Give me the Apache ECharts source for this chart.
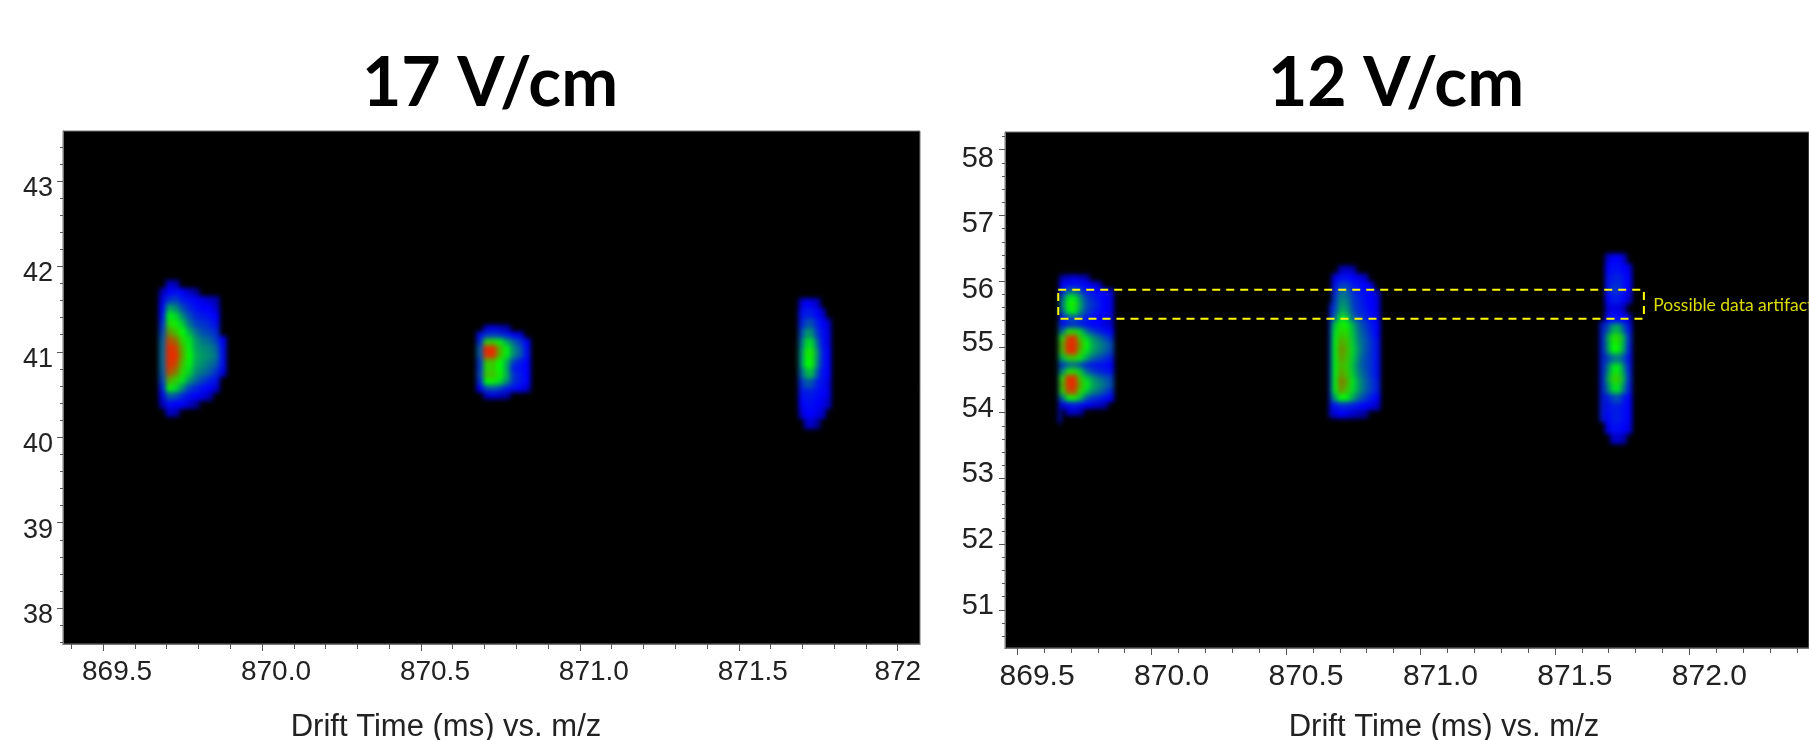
<!DOCTYPE html>
<html><head><meta charset="utf-8">
<style>
html,body{margin:0;padding:0;background:#fff;overflow:hidden}
#chart{width:1809px;height:740px}
#chart canvas[data-zr-dom-id="zr_1"]{filter:blur(2.6px)}
</style>
<script src="https://cdn.jsdelivr.net/npm/echarts@6/dist/echarts.min.js"></script>
</head><body><div id="chart"></div>
<script>
// ---------- tick values and labels ----------
const xTicksLeft = [869.5, 870, 870.5, 871, 871.5, 872];
const xLabelsLeft = ['869.5', '870.0', '870.5', '871.0', '871.5', '872'];
const yTicksLeft = [38, 39, 40, 41, 42, 43];
const xTicksRight = [869.5, 870, 870.5, 871, 871.5, 872];
const xLabelsRight = ['869.5', '870.0', '870.5', '871.0', '871.5', '872.0'];
const yTicksRight = [51, 52, 53, 54, 55, 56, 57, 58];
const xRangeLeft = [869.374, 872.07], yRangeLeft = [37.58, 43.585];
const xRangeRight = [869.455, 872.445], yRangeRight = [50.42, 58.27];

// ---------- intensity tables (rows top to bottom) ----------
const peakL1 = [
[0,16,14,0,0,0,0,0,0,0],[14,20,22,20,16,12,0,0,0,0],[18,28,30,24,22,20,18,16,14,0],
[20,46,42,32,26,22,20,20,16,0],[22,58,54,42,32,26,24,22,20,0],[26,66,62,52,38,30,28,26,22,0],
[30,76,70,60,48,38,32,30,26,0],[34,92,84,66,56,44,38,36,30,20],[36,100,96,72,58,46,42,40,36,22],
[36,100,100,74,60,48,44,42,38,22],[36,100,94,70,58,46,42,38,34,22],[34,92,82,66,54,42,38,34,28,18],
[30,74,68,56,44,36,30,26,22,0],[24,62,54,42,30,26,22,20,16,0],[18,34,32,26,22,20,18,14,0,0],
[14,22,20,20,16,12,0,0,0,0],[0,16,14,0,0,0,0,0,0,0]];
const peakL2 = [
[0,16,18,16,14,0,0,0],[22,28,30,28,24,20,18,0],[26,66,66,58,46,36,28,20],
[34,100,100,72,58,42,34,22],[34,100,100,72,58,42,34,22],[28,70,70,60,48,30,24,20],
[28,66,68,60,46,24,22,20],[30,70,70,62,48,28,24,20],[26,60,62,54,42,28,24,20],
[20,32,34,30,24,22,20,16],[0,16,18,16,14,0,0,0]];
const peakL3 = [
[16,20,18,16,0,0],[22,24,24,20,16,0],[24,32,32,24,20,16],[30,44,42,28,22,18],
[36,54,54,36,22,18],[40,62,64,42,24,20],[40,60,62,40,24,20],[34,48,50,32,22,20],
[26,34,32,24,22,18],[22,24,24,22,20,18],[20,22,22,20,18,16],[16,20,20,18,16,0],[0,16,16,12,0,0]];
const peakR1 = [
[14,16,18,16,14,0,0,0,0],[20,22,22,22,20,18,16,0,0],[24,36,38,30,24,22,20,18,16],
[34,56,58,42,30,26,22,20,18],[38,62,64,46,32,28,24,20,18],[34,56,58,42,30,26,22,20,18],
[22,30,32,28,24,22,20,18,16],[22,26,28,24,22,20,20,18,16],[36,64,66,54,38,30,26,22,20],
[66,96,100,68,54,44,38,32,26],[74,100,100,76,60,48,42,38,32],[70,100,100,70,56,46,40,36,30],
[48,66,68,58,46,36,32,28,24],[28,36,38,32,26,24,22,22,20],[40,64,66,52,36,30,26,24,22],
[66,100,100,68,52,44,38,34,30],[72,100,100,74,58,48,42,38,32],[66,92,94,66,52,42,38,32,26],
[36,60,62,50,34,28,26,22,20],[18,22,24,22,20,18,16,14,0],[0,16,16,14,0,0,0,0,0]];
const peakR2 = [
[0,14,16,14,0,0,0,0],[18,22,22,20,18,16,0,0],[22,30,30,24,22,20,18,0],[26,38,36,28,24,22,20,16],
[28,42,40,30,26,22,20,18],[30,46,44,32,26,24,20,18],[36,56,52,36,30,26,22,18],[52,64,62,48,36,30,24,20],
[56,68,66,50,38,32,26,20],[58,74,70,52,40,34,28,22],[58,78,72,54,42,34,28,22],[58,76,70,52,40,32,28,22],
[58,72,68,50,38,32,28,22],[58,76,70,52,40,34,28,22],[58,82,74,56,44,36,30,24],[58,78,70,54,44,36,30,24],
[44,60,58,46,36,30,24,20],[22,26,26,24,22,20,18,16],[16,20,18,16,14,12,0,0]];
const peakR3 = [
[16,20,20,16,0],[20,22,22,20,18],[22,24,26,22,20],[22,28,28,22,20],[20,24,24,20,16],
[16,18,18,14,0],[20,22,22,20,16],[32,46,48,34,22],[44,64,66,48,26],[42,60,62,46,24],
[30,38,40,32,22],[38,56,58,42,24],[44,66,68,48,26],[38,54,56,40,24],[24,30,32,24,20],
[22,24,24,22,20],[20,24,24,22,20],[18,22,22,20,18],[0,16,16,14,0]];
const stripR1 = [[40],[40],[40],[40],[38],[36],[34],[30],[26],[24],[22],[22]];
const stripR2 = [[22],[22],[22],[22],[22],[22],[22],[22],[22],[22],[22],[22]];
const stripR3 = [[24],[24],[24],[24],[24],[24],[24],[24],[24],[24]];

// ---------- where each table sits, in axis units: [table, x start, x step, y top, y step]
const placedLeft = [
  [peakL1, 869.676, 0.021, 41.84, 0.0937],
  [peakL2, 870.675, 0.021, 41.314, 0.078],
  [peakL3, 871.688, 0.0168, 41.626, 0.117]
];
const placedRight = [
  [stripR1, 869.654, 0.0075, 55.414, 0.1307],
  [stripR2, 870.661, 0.0087, 55.658, 0.1433],
  [stripR3, 871.667, 0.0149, 55.388, 0.1522],
  [peakR1, 869.657, 0.0223, 56.099, 0.1015],
  [peakR2, 870.67, 0.0223, 56.236, 0.1218],
  [peakR3, 871.686, 0.0198, 56.42, 0.152]
];

// ---------- annotation ----------
const artifactBox = [869.653, 55.87, 871.831, 55.43];
const artifactLabel = 'Possible data artifact';
const artifactLabelAt = [871.866, 55.64];

function cells(placed) {
  const out = [];
  placed.forEach(([t, x0, dx, y0, dy]) => t.forEach((row, r) => row.forEach((v, c) => {
    if (v > 0) out.push([x0 + c * dx, y0 - r * dy, dx, dy, v]);
  })));
  return out;
}
function steps(range, step) {
  const a = [];
  const n0 = Math.ceil(range[0] / step - 1e-6), n1 = Math.floor(range[1] / step + 1e-6);
  for (let n = n0; n <= n1; n++) a.push(+(n * step).toFixed(3));
  return a;
}
function renderCell(params, api) {
  const p0 = api.coord([api.value(0), api.value(1)]);
  const p1 = api.coord([api.value(0) + api.value(2), api.value(1) - api.value(3)]);
  return {
    type: 'rect',
    shape: { x: p0[0], y: p0[1], width: p1[0] - p0[0] + 0.6, height: p1[1] - p0[1] + 0.6 },
    style: { fill: api.visual('color') }
  };
}
const numFont = '"Liberation Sans", Arial, sans-serif';
const tickCol = '#555';

function xAxes(gridIndex, range, ticks, labels, size, margin, pad, plainLabel) {
  const base = { type: 'value', gridIndex, position: 'bottom', min: range[0], max: range[1],
    splitLine: { show: false }, axisLine: { show: true, lineStyle: { color: '#777', width: 1 } } };
  return [
    Object.assign({}, base, {
      axisTick: { show: true, length: 7, customValues: ticks, lineStyle: { color: tickCol } },
      axisLabel: { show: true, customValues: ticks, fontFamily: numFont, fontSize: size, color: '#222',
        margin, hideOverlap: false, showMinLabel: true, showMaxLabel: true,
        formatter: v => {
          const s = labels[ticks.indexOf(v)];
          return (s === plainLabel ? '{flat|' : '{moved|') + s + '}';
        },
        rich: {
          moved: { fontFamily: numFont, fontSize: size, color: '#222', padding: [0, 0, 0, pad] },
          flat: { fontFamily: numFont, fontSize: size, color: '#222', padding: 0 }
        } }
    }),
    Object.assign({}, base, {
      axisTick: { show: true, length: 5, customValues: steps(range, 0.1), lineStyle: { color: tickCol } },
      axisLabel: { show: false }
    })
  ];
}
function yAxes(gridIndex, range, ticks, size, margin, labelOpts) {
  const base = { type: 'value', gridIndex, position: 'left', min: range[0], max: range[1],
    splitLine: { show: false }, axisLine: { show: true, lineStyle: { color: '#777', width: 1 } } };
  return [
    Object.assign({}, base, {
      axisTick: { show: true, length: 6, customValues: ticks, lineStyle: { color: tickCol } },
      axisLabel: Object.assign({ show: true, customValues: ticks, fontFamily: numFont, fontSize: size, color: '#222',
        margin, hideOverlap: false, showMinLabel: true, showMaxLabel: true }, labelOpts)
    }),
    Object.assign({}, base, {
      axisTick: { show: true, length: 3, customValues: steps(range, 0.2), lineStyle: { color: tickCol } },
      axisLabel: { show: false }
    })
  ];
}

const chart = echarts.init(document.getElementById('chart'), null, { renderer: 'canvas' });
const titleStyle = { fontFamily: 'Lato, "Open Sans", sans-serif', fontWeight: 'bold', fontSize: 68, color: '#000' };
const nameStyle = { fontFamily: numFont, fontWeight: 'normal', fontSize: 31, color: '#222' };
chart.setOption({
  animation: false,
  backgroundColor: '#fff',
  title: [
    { text: '17 V/cm', left: 485, top: 45, textAlign: 'center', textStyle: titleStyle },
    { text: '12 V/cm', left: 1391, top: 45, textAlign: 'center', textStyle: titleStyle },
    { text: 'Drift Time (ms) vs. m/z', left: 441, top: 707, textAlign: 'center', textStyle: nameStyle },
    { text: 'Drift Time (ms) vs. m/z', left: 1439, top: 707, textAlign: 'center', textStyle: nameStyle }
  ],
  grid: [
    { left: 63, top: 131, width: 857, height: 513, show: true, backgroundColor: '#000', borderColor: '#777', borderWidth: 1 },
    { left: 1005, top: 132, width: 804, height: 516, show: true, backgroundColor: '#000', borderColor: '#777', borderWidth: 1 }
  ],
  xAxis: [
    ...xAxes(0, xRangeLeft, xTicksLeft, xLabelsLeft, 28, 14, 28, '872'),
    ...xAxes(1, xRangeRight, xTicksRight, xLabelsRight, 30, 14, 40, null)
  ],
  yAxis: [
    ...yAxes(0, yRangeLeft, yTicksLeft, 27, 10, {
      formatter: v => '{a|' + v + '}',
      rich: { a: { fontFamily: numFont, fontSize: 27, color: '#222', padding: [15, 0, 0, 0] } }
    }),
    ...yAxes(1, yRangeRight, yTicksRight, 29, 11, {
      formatter: v => (v >= 56 ? '{up|' + v + '}' : '{down|' + v + '}'),
      rich: {
        up: { fontFamily: numFont, fontSize: 29, color: '#222', padding: [18, 0, 0, 0] },
        down: { fontFamily: numFont, fontSize: 29, color: '#222', padding: [0, 0, 8, 0] }
      }
    })
  ],
  visualMap: {
    show: false, type: 'continuous', min: 0, max: 100, dimension: 4, seriesIndex: [0, 1],
    inRange: { color: ['#000000', '#0000ff', '#008080', '#00ff00', '#808000', '#e62e00'] }
  },
  series: [
    { type: 'custom', xAxisIndex: 0, yAxisIndex: 0, zlevel: 1, renderItem: renderCell, silent: true,
      data: cells(placedLeft), encode: { x: 0, y: 1 } },
    { type: 'custom', xAxisIndex: 2, yAxisIndex: 2, zlevel: 1, renderItem: renderCell, silent: true,
      data: cells(placedRight), encode: { x: 0, y: 1 } },
    { type: 'custom', xAxisIndex: 2, yAxisIndex: 2, zlevel: 2, silent: true, clip: false,
      data: [artifactBox], encode: { x: [0, 2], y: [1, 3] },
      renderItem(params, api) {
        const a = api.coord([api.value(0), api.value(1)]);
        const b = api.coord([api.value(2), api.value(3)]);
        const t = api.coord(artifactLabelAt);
        return { type: 'group', children: [
          { type: 'rect', shape: { x: a[0], y: a[1], width: b[0] - a[0], height: b[1] - a[1] },
            style: { fill: 'none', stroke: '#ffff00', lineWidth: 2, lineDash: [8, 6] } },
          { type: 'text', x: t[0], y: t[1], style: { text: artifactLabel, fill: '#dcdc00',
            font: '17.5px Lato, "Noto Sans", sans-serif', textVerticalAlign: 'middle', textAlign: 'left' } }
        ] };
      } }
  ]
});
</script></body></html>
